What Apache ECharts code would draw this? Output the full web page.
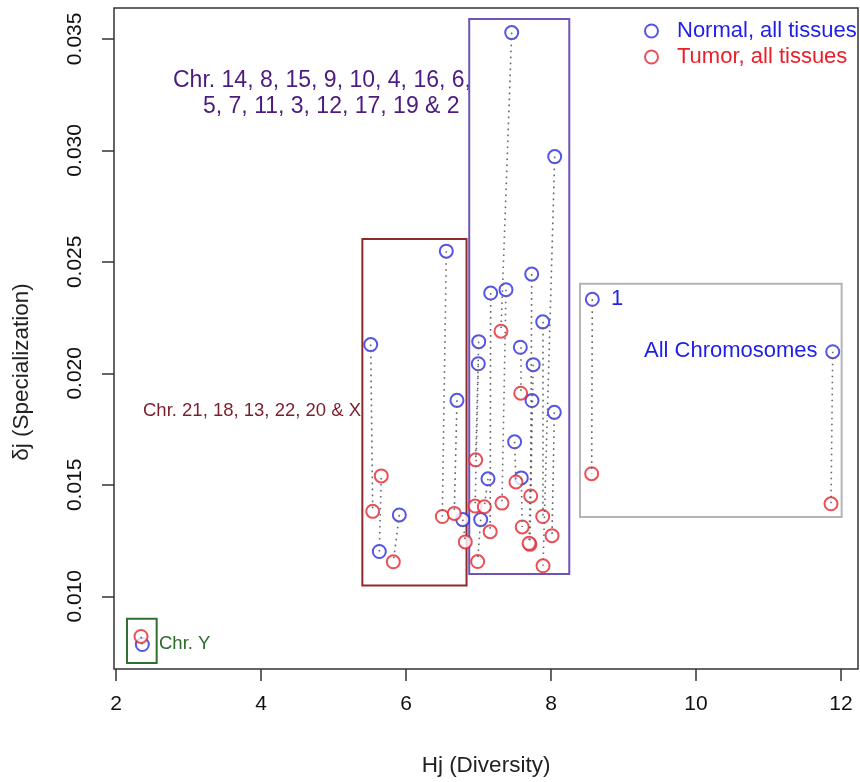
<!DOCTYPE html>
<html>
<head>
<meta charset="utf-8">
<script src="https://cdn.jsdelivr.net/npm/echarts@6/dist/echarts.min.js"></script>
<style>
  html, body { margin: 0; padding: 0; background: #fff; }
  #main { width: 860px; height: 782px; }
</style>
</head>
<body>
<div id="main"></div>
<script type="text/javascript">
// 每条染色体一对点：正常组织(蓝) 与 肿瘤组织(红)
var normalX = [5.513, 6.556, 6.703, 5.908, 5.632, 6.782,
    7.458, 8.051, 7.734, 7.168, 7.379, 7.886, 7.003, 7.577, 6.997, 7.754,
    7.738, 8.046, 7.498, 7.131, 7.590, 7.030,
    8.570, 11.886, 2.363];
var normalY = [0.02129, 0.02548, 0.01879, 0.01365, 0.01201, 0.01344,
    0.03528, 0.02972, 0.02445, 0.02360, 0.02375, 0.02231, 0.02142, 0.02117, 0.02043, 0.02039,
    0.01878, 0.01825, 0.01693, 0.01527, 0.01531, 0.01344,
    0.02332, 0.02097, 0.00784];
var tumorX = [5.541, 6.501, 6.666, 5.825, 5.659, 6.818,
    7.310, 7.890, 7.720, 7.161, 7.324, 7.886, 6.961, 7.582, 6.954, 7.710,
    7.697, 8.014, 7.517, 7.080, 7.603, 6.988,
    8.561, 11.862, 2.345];
var tumorY = [0.01381, 0.01358, 0.01372, 0.01155, 0.01540, 0.01244,
    0.02189, 0.01137, 0.01450, 0.01290, 0.01418, 0.01358, 0.01612, 0.01911, 0.01405, 0.01233,
    0.01238, 0.01272, 0.01513, 0.01402, 0.01311, 0.01156,
    0.01550, 0.01415, 0.00820];

// 分组框 [x0, x1, y0, y1]
var boxNames = ['purple', 'brown', 'gray', 'green'];
var boxX0 = [6.872, 5.398, 8.400, 2.152];
var boxX1 = [8.252, 6.835, 12.009, 2.561];
var boxY0 = [0.01100, 0.01049, 0.01356, 0.00701];
var boxY1 = [0.03589, 0.02603, 0.02402, 0.00900];

var xTicks = [2, 4, 6, 8, 10, 12];
var yTicks = [0.010, 0.015, 0.020, 0.025, 0.030, 0.035];

var boxColors = { purple: '#6e54b4', brown: '#8e2a2e', gray: '#b4b4b4', green: '#2f6f2f' };
var font = '"Liberation Sans", Arial, Helvetica, sans-serif';

var myChart = echarts.init(document.getElementById('main'));

var normalData = normalX.map(function (x, i) { return [x, normalY[i]]; });
var tumorData = tumorX.map(function (x, i) { return [x, tumorY[i]]; });
var pairLines = normalX.map(function (x, i) {
    return { coords: [[x, normalY[i]], [tumorX[i], tumorY[i]]] };
});
var boxData = boxNames.map(function (n, i) {
    return [boxX0[i], boxX1[i], boxY0[i], boxY1[i], n];
});

var option = {
    animation: false,
    textStyle: { fontFamily: font },
    grid: {
        left: 114, right: 2, top: 8, bottom: 110,
        show: true, borderColor: '#333', borderWidth: 1.5
    },
    legend: {
        orient: 'vertical',
        left: 644, top: 20,
        padding: 0,
        itemGap: 4,
        itemWidth: 13, itemHeight: 13,
        textStyle: { fontSize: 22, padding: [0, 0, 0, 14] },
        data: [
            { name: 'Normal, all tissues', textStyle: { color: '#1f1fe6' } },
            { name: 'Tumor, all tissues', textStyle: { color: '#e8202a' } }
        ]
    },
    xAxis: {
        type: 'value',
        min: 1.9724, max: 12.2345,
        name: 'Hj (Diversity)',
        nameLocation: 'middle',
        nameGap: 85,
        nameTextStyle: { fontSize: 22.5, color: '#222' },
        axisLine: { show: false },
        axisTick: { show: true, length: 12, customValues: xTicks, lineStyle: { color: '#333', width: 1.5 } },
        axisLabel: { customValues: xTicks, fontSize: 21, color: '#111', margin: 25 },
        splitLine: { show: false }
    },
    yAxis: {
        type: 'value',
        min: 0.006741, max: 0.036384,
        axisLine: { show: false },
        axisTick: { show: true, length: 12, customValues: yTicks, lineStyle: { color: '#333', width: 1.5 } },
        axisLabel: {
            customValues: yTicks, fontSize: 21, color: '#111', margin: 28, rotate: 90,
            formatter: function (v) { return v.toFixed(3); }
        },
        splitLine: { show: false }
    },
    series: [
        {
            type: 'custom',
            name: 'boxes',
            silent: true,
            z: 1,
            data: boxData,
            renderItem: function (params, api) {
                var p0 = api.coord([api.value(0), api.value(3)]);
                var p1 = api.coord([api.value(1), api.value(2)]);
                var n = boxNames[params.dataIndex];
                return {
                    type: 'rect',
                    shape: { x: p0[0], y: p0[1], width: p1[0] - p0[0], height: p1[1] - p0[1] },
                    style: { fill: null, stroke: boxColors[n], lineWidth: 2 }
                };
            }
        },
        {
            type: 'lines',
            name: 'pairs',
            coordinateSystem: 'cartesian2d',
            silent: true,
            z: 3,
            symbol: 'none',
            lineStyle: { color: '#666', width: 1.6, type: [1.6, 4.4], opacity: 1, curveness: 0 },
            data: pairLines
        },
        {
            type: 'scatter',
            name: 'Normal, all tissues',
            symbol: 'emptyCircle',
            symbolSize: 13,
            z: 2,
            itemStyle: { color: '#2b2be0', borderWidth: 1.8 },
            data: normalData
        },
        {
            type: 'scatter',
            name: 'Tumor, all tissues',
            symbol: 'emptyCircle',
            symbolSize: 13,
            z: 2,
            itemStyle: { color: '#e3262e', borderWidth: 1.8 },
            data: tumorData
        }
    ],
    graphic: [
        // y 轴标题
        { type: 'text', x: 22, y: 372, rotation: Math.PI / 2,
          style: { text: 'δj (Specialization)', font: '22.5px ' + font, fill: '#222', align: 'center', verticalAlign: 'middle' } },
        { type: 'text', left: 173, top: 69, style: { text: 'Chr. 14, 8, 15, 9, 10, 4, 16, 6,', font: '23px ' + font, fill: '#4b1c7e' } },
        { type: 'text', left: 203, top: 95, style: { text: '5, 7, 11, 3, 12, 17, 19 & 2', font: '23px ' + font, fill: '#4b1c7e' } },
        { type: 'text', left: 611, top: 288, style: { text: '1', font: '22px ' + font, fill: '#1f1fe6' } },
        { type: 'text', left: 644, top: 340, style: { text: 'All Chromosomes', font: '22px ' + font, fill: '#1f1fe6' } },
        { type: 'text', left: 143, top: 401, style: { text: 'Chr. 21, 18, 13, 22, 20 & X', font: '18.5px ' + font, fill: '#7a1f2b' } },
        { type: 'text', left: 159, top: 634, style: { text: 'Chr. Y', font: '18.5px ' + font, fill: '#2a6a2a' } }
    ]
};

myChart.setOption(option);
</script>
</body>
</html>
